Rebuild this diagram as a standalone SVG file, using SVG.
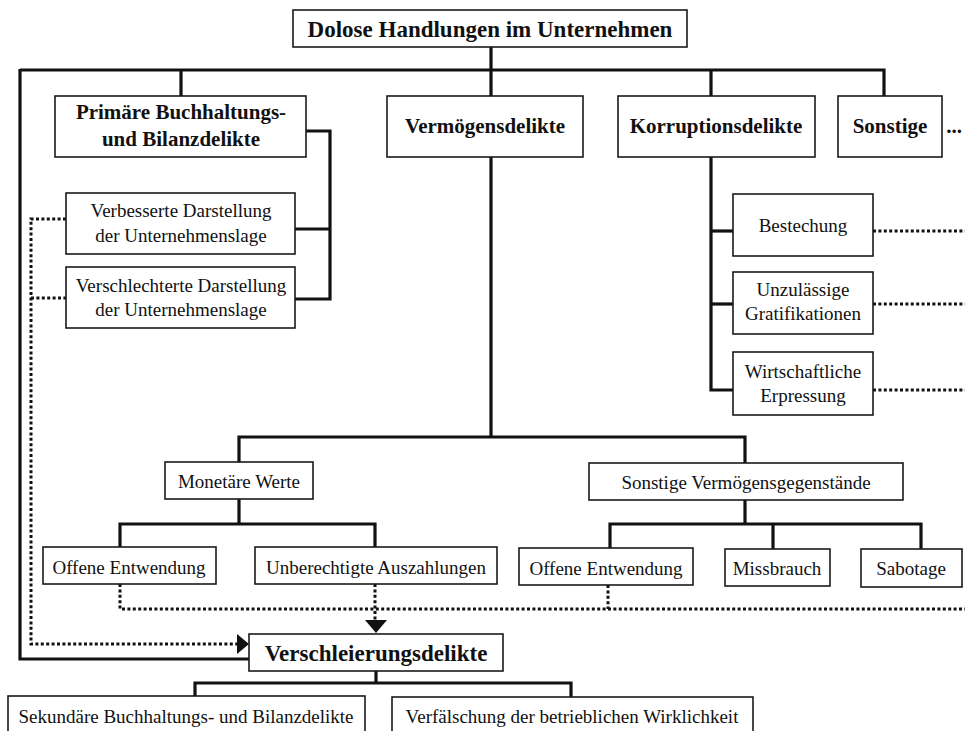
<svg xmlns="http://www.w3.org/2000/svg" width="965" height="731" viewBox="0 0 965 731">
  <style>
    .box { fill: #ffffff; stroke: #1a1a1a; stroke-width: 1.6; }
    .t { font-family: "Liberation Serif", "Times New Roman", serif; font-size: 19px; fill: #111; text-anchor: middle; }
    .tb { font-family: "Liberation Serif", "Times New Roman", serif; font-size: 21px; font-weight: bold; fill: #111; text-anchor: middle; }
    .tbig { font-family: "Liberation Serif", "Times New Roman", serif; font-size: 23px; font-weight: bold; fill: #111; text-anchor: middle; }
    .solid { fill: none; stroke: #111; stroke-width: 3.2; stroke-linejoin: miter; }
    .dot { fill: none; stroke: #111; stroke-width: 3; stroke-dasharray: 3 2.4; }
  </style>
  <defs>
    <marker id="arrow" viewBox="0 0 12 20" refX="12" refY="10" markerWidth="12" markerHeight="20" markerUnits="userSpaceOnUse" orient="auto">
      <path d="M0,0 L12,10 L0,20 Z" fill="#111"/>
    </marker>
  </defs>
  <rect width="965" height="731" fill="#ffffff"/>

  <!-- connectors -->
  <g id="connectors">
    <!-- root to first level -->
    <path class="solid" d="M491,47 V70"/>
    <path class="solid" d="M20,70 H884 V96"/>
    <path class="solid" d="M181,70 V96"/>
    <path class="solid" d="M711,70 V96"/>
    <!-- left spine down to Verschleierungsdelikte -->
    <path class="solid" d="M20,69 V659 H249"/>
    <!-- Primäre bracket -->
    <path class="solid" d="M306,131 H330 V299 H295"/>
    <path class="solid" d="M295,229 H330"/>
    <!-- Vermögensdelikte -->
    <path class="solid" d="M491,70 V437"/>
    <path class="solid" d="M239,462 V437 H745 V463"/>
    <!-- Monetäre Werte -->
    <path class="solid" d="M239,499 V524"/>
    <path class="solid" d="M120,547 V524 H375 V547"/>
    <!-- Sonstige Vermögensgegenstände -->
    <path class="solid" d="M745,500 V524"/>
    <path class="solid" d="M610,548 V524 H921 V549"/>
    <path class="solid" d="M773,524 V549"/>
    <!-- Korruptionsdelikte -->
    <path class="solid" d="M711,157 V390 H733"/>
    <path class="solid" d="M711,231 H733"/>
    <path class="solid" d="M711,304 H733"/>
    <!-- Verschleierungsdelikte children -->
    <path class="solid" d="M376,671 V683"/>
    <path class="solid" d="M195,696 V683 H571 V697"/>

    <!-- dotted links -->
    <path class="dot" d="M66,219 H31 V644 H237" />
    <path d="M237,634 L249,644 L237,654 Z" fill="#111"/>
    <path class="dot" d="M31,298 H66"/>
    <path class="dot" d="M120,584 V609 H965"/>
    <path class="dot" d="M608,585 V609"/>
    <path class="dot" d="M375,584 V621"/>
    <path d="M365,620 L387,620 L376,633 Z" fill="#111"/>
    <path class="dot" d="M873,231 H965"/>
    <path class="dot" d="M873,304 H965"/>
    <path class="dot" d="M873,390 H965"/>
  </g>

  <g id="root">
    <rect class="box" x="293" y="10" width="394" height="37"/>
    <text class="tbig" x="490" y="37">Dolose Handlungen im Unternehmen</text>
  </g>

  <g id="primaer">
    <rect class="box" x="55" y="96" width="251" height="61"/>
    <text class="tb" x="181" y="119">Primäre Buchhaltungs-</text>
    <text class="tb" x="181" y="146">und Bilanzdelikte</text>
  </g>

  <g id="verbessert">
    <rect class="box" x="66" y="193" width="229" height="61"/>
    <text class="t" x="181" y="217">Verbesserte Darstellung</text>
    <text class="t" x="181" y="242">der Unternehmenslage</text>
  </g>

  <g id="verschlechtert">
    <rect class="box" x="66" y="267" width="229" height="61"/>
    <text class="t" x="181" y="292">Verschlechterte Darstellung</text>
    <text class="t" x="181" y="316">der Unternehmenslage</text>
  </g>

  <g id="vermoegen">
    <rect class="box" x="387" y="96" width="196" height="61"/>
    <text class="tb" x="485" y="133">Vermögensdelikte</text>
  </g>

  <g id="korruption">
    <rect class="box" x="618" y="96" width="197" height="61"/>
    <text class="tb" x="716" y="133">Korruptionsdelikte</text>
  </g>

  <g id="sonstige">
    <rect class="box" x="838" y="96" width="104" height="61"/>
    <text class="tb" x="890" y="133">Sonstige</text>
    <text class="tb" x="954" y="133">...</text>
  </g>

  <g id="bestechung">
    <rect class="box" x="733" y="194" width="140" height="62"/>
    <text class="t" x="803" y="232">Bestechung</text>
  </g>

  <g id="gratifikationen">
    <rect class="box" x="733" y="272" width="140" height="62"/>
    <text class="t" x="803" y="296">Unzulässige</text>
    <text class="t" x="803" y="320">Gratifikationen</text>
  </g>

  <g id="erpressung">
    <rect class="box" x="733" y="352" width="140" height="63"/>
    <text class="t" x="803" y="378">Wirtschaftliche</text>
    <text class="t" x="803" y="402">Erpressung</text>
  </g>

  <g id="monetaer">
    <rect class="box" x="165" y="462" width="148" height="37"/>
    <text class="t" x="239" y="488">Monetäre Werte</text>
  </g>

  <g id="sonstige-vermoegen">
    <rect class="box" x="589" y="463" width="314" height="37"/>
    <text class="t" x="746" y="489">Sonstige Vermögensgegenstände</text>
  </g>

  <g id="entwendung-1">
    <rect class="box" x="43" y="547" width="173" height="37"/>
    <text class="t" x="129" y="574">Offene Entwendung</text>
  </g>

  <g id="auszahlungen">
    <rect class="box" x="255" y="547" width="242" height="37"/>
    <text class="t" x="376" y="574">Unberechtigte Auszahlungen</text>
  </g>

  <g id="entwendung-2">
    <rect class="box" x="519" y="548" width="174" height="37"/>
    <text class="t" x="606" y="575">Offene Entwendung</text>
  </g>

  <g id="missbrauch">
    <rect class="box" x="725" y="549" width="105" height="37"/>
    <text class="t" x="777" y="575">Missbrauch</text>
  </g>

  <g id="sabotage">
    <rect class="box" x="861" y="549" width="101" height="38"/>
    <text class="t" x="911" y="575">Sabotage</text>
  </g>

  <g id="verschleierung">
    <rect class="box" x="249" y="634" width="254" height="37"/>
    <text class="tbig" x="376" y="661">Verschleierungsdelikte</text>
  </g>

  <g id="sekundaer">
    <rect class="box" x="8" y="696" width="357" height="45"/>
    <text class="t" x="186" y="723">Sekundäre Buchhaltungs- und Bilanzdelikte</text>
  </g>

  <g id="verfaelschung">
    <rect class="box" x="392" y="697" width="361" height="44"/>
    <text class="t" x="572" y="723">Verfälschung der betrieblichen Wirklichkeit</text>
  </g>
</svg>
